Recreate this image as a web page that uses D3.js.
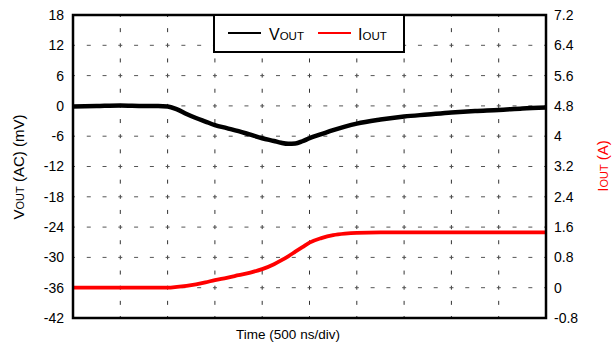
<!DOCTYPE html>
<html>
<head>
<meta charset="utf-8">
<script src="https://cdn.jsdelivr.net/npm/d3@7"></script>
<style>
  body { margin: 0; background: #fff; }
  text { font-family: "Liberation Sans", Arial, sans-serif; }
</style>
</head>
<body>
<div id="chart"></div>
<script>
// thời gian tính theo số ô (500 ns/div)
const timeDiv = [0, 0.5, 1, 1.5, 1.8, 2.0, 2.2, 2.4, 2.6, 2.8, 3.0, 3.25, 3.5, 3.75, 4.0, 4.25, 4.4, 4.55, 4.7, 4.85, 5.0, 5.25, 5.5, 5.75, 6.0, 6.5, 7.0, 7.5, 8.0, 8.5, 9.0, 9.5, 10];
// VOUT (AC) mV
const vout = [-0.1, 0.0, 0.1, 0.0, 0.0, -0.1, -0.7, -1.6, -2.4, -3.1, -3.8, -4.4, -5.0, -5.7, -6.4, -6.95, -7.3, -7.5, -7.45, -7.0, -6.4, -5.6, -4.8, -4.1, -3.5, -2.7, -2.1, -1.7, -1.3, -1.0, -0.8, -0.5, -0.3];
// IOUT A
const iout = [0, 0, 0, 0, 0, 0, 0.02, 0.05, 0.09, 0.14, 0.2, 0.26, 0.33, 0.40, 0.49, 0.62, 0.72, 0.83, 0.95, 1.07, 1.19, 1.31, 1.39, 1.43, 1.45, 1.46, 1.46, 1.46, 1.46, 1.46, 1.46, 1.46, 1.46];

const voutTicks = [18, 12, 6, 0, -6, -12, -18, -24, -30, -36, -42];
const ioutTicks = [7.2, 6.4, 5.6, 4.8, 4, 3.2, 2.4, 1.6, 0.8, 0, -0.8];
const timeGrid = [0, 1, 2, 3, 4, 5, 6, 7, 8, 9, 10];

const width = 613;
const height = 347;
const margin = { top: 15, right: 67, bottom: 29, left: 73 };

const svg = d3.select("#chart")
    .append("svg")
    .attr("width", width)
    .attr("height", height);

const x = d3.scaleLinear()
    .domain([0, 10])
    .range([margin.left, width - margin.right]);

const yL = d3.scaleLinear()
    .domain([-42, 18])
    .range([height - margin.bottom, margin.top]);

const yR = d3.scaleLinear()
    .domain([-0.8, 7.2])
    .range([height - margin.bottom, margin.top]);

// lưới nét đứt
svg.append("g")
    .selectAll("line")
    .data(timeGrid.slice(1, -1))
    .enter()
    .append("line")
    .attr("x1", d => x(d))
    .attr("x2", d => x(d))
    .attr("y1", height - margin.bottom)
    .attr("y2", margin.top)
    .attr("stroke", "#333")
    .attr("stroke-width", 1)
    .attr("stroke-dasharray", "4,11.15")
    .attr("stroke-dashoffset", 2);

svg.append("g")
    .selectAll("line")
    .data(voutTicks.slice(1, -1))
    .enter()
    .append("line")
    .attr("x1", margin.left)
    .attr("x2", width - margin.right)
    .attr("y1", d => yL(d))
    .attr("y2", d => yL(d))
    .attr("stroke", "#555")
    .attr("stroke-width", 1)
    .attr("stroke-dasharray", "4,11.77")
    .attr("stroke-dashoffset", 2);

// đường dữ liệu
const ioutLine = d3.line()
    .x((d, i) => x(timeDiv[i]))
    .y(d => yR(d))
    .curve(d3.curveMonotoneX);

const voutLine = d3.line()
    .x((d, i) => x(timeDiv[i]))
    .y(d => yL(d))
    .curve(d3.curveMonotoneX);

svg.append("path")
    .datum(iout)
    .attr("fill", "none")
    .attr("stroke", "#ff0000")
    .attr("stroke-width", 3.8)
    .attr("d", ioutLine);

svg.append("path")
    .datum(vout)
    .attr("fill", "none")
    .attr("stroke", "#000")
    .attr("stroke-width", 4.5)
    .attr("d", voutLine);

// khung
svg.append("rect")
    .attr("x", margin.left)
    .attr("y", margin.top)
    .attr("width", width - margin.left - margin.right)
    .attr("height", height - margin.top - margin.bottom)
    .attr("fill", "none")
    .attr("stroke", "#000")
    .attr("stroke-width", 2.5);

// trục
const axL = svg.append("g")
    .attr("transform", `translate(${margin.left},0)`)
    .call(d3.axisLeft(yL).tickValues(voutTicks).tickSize(0).tickPadding(9).tickFormat(d => d));
axL.select(".domain").remove();
axL.selectAll("text").attr("font-size", "14px").attr("font-family", null).attr("fill", "#000");

const axR = svg.append("g")
    .attr("transform", `translate(${width - margin.right},0)`)
    .call(d3.axisRight(yR).tickValues(ioutTicks).tickSize(0).tickPadding(8).tickFormat(d => d));
axR.select(".domain").remove();
axR.selectAll("text").attr("font-size", "14px").attr("font-family", null).attr("fill", "#000");

// nhãn trục
const lblL = svg.append("text")
    .attr("transform", "translate(24,167) rotate(-90)")
    .attr("text-anchor", "middle")
    .attr("font-size", "15px")
    .attr("fill", "#000");
lblL.append("tspan").text("V");
lblL.append("tspan").attr("font-size", "11px").text("OUT");
lblL.append("tspan").text(" (AC) (mV)");

const lblR = svg.append("text")
    .attr("transform", "translate(608,166) rotate(-90)")
    .attr("text-anchor", "middle")
    .attr("font-size", "15px")
    .attr("fill", "#ff0000");
lblR.append("tspan").text("I");
lblR.append("tspan").attr("font-size", "11px").text("OUT");
lblR.append("tspan").text(" (A)");

svg.append("text")
    .attr("x", 288)
    .attr("y", 339)
    .attr("text-anchor", "middle")
    .attr("font-size", "13.5px")
    .attr("fill", "#000")
    .text("Time (500 ns/div)");

// chú thích
const legend = svg.append("g");
legend.append("rect")
    .attr("x", 214)
    .attr("y", 15)
    .attr("width", 190)
    .attr("height", 37)
    .attr("fill", "#fff")
    .attr("stroke", "#000")
    .attr("stroke-width", 2);

const series = [
    { name: "V", sub: "OUT", color: "#000", lx: 228, tx: 269 },
    { name: "I", sub: "OUT", color: "#ff0000", lx: 318, tx: 358 }
];

series.forEach(s => {
    legend.append("line")
        .attr("x1", s.lx)
        .attr("x2", s.lx + 33)
        .attr("y1", 33)
        .attr("y2", 33)
        .attr("stroke", s.color)
        .attr("stroke-width", 2);
    const t = legend.append("text")
        .attr("x", s.tx)
        .attr("y", 40)
        .attr("font-size", "16px")
        .attr("fill", "#000");
    t.append("tspan").text(s.name);
    t.append("tspan").attr("font-size", "11.5px").text(s.sub);
});
</script>
</body>
</html>
